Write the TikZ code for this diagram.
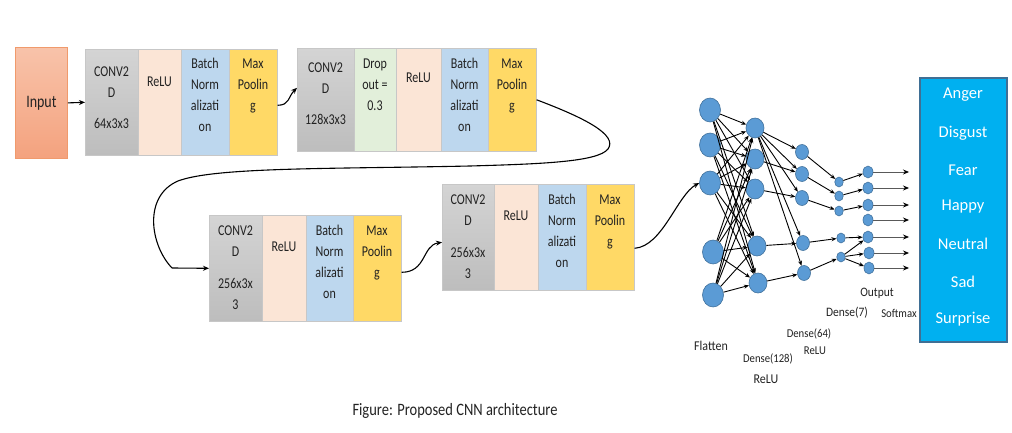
\documentclass[tikz,border=0pt]{standalone}
\usepackage{fontspec}
\usepackage{graphicx}
\setmainfont{Carlito}
\usetikzlibrary{arrows.meta,shapes.geometric,calc}
\definecolor{convT}{HTML}{D4D4D4}
\definecolor{convB}{HTML}{BDBDBD}
\definecolor{inT}{HTML}{F8C3AA}
\definecolor{inB}{HTML}{F4A27E}
\definecolor{inD}{HTML}{F09A6C}
\definecolor{relu}{HTML}{FBE5D6}
\definecolor{bn}{HTML}{BDD7EE}
\definecolor{mp}{HTML}{FFD966}
\definecolor{drop}{HTML}{E2EFDA}
\definecolor{nfill}{HTML}{5B9BD5}
\definecolor{ndraw}{HTML}{41719C}
\definecolor{obox}{HTML}{00B0F0}
\definecolor{oboxd}{HTML}{3F6F95}
\definecolor{txt}{HTML}{222222}
\newcommand\vst[2][1.25]{\scalebox{1}[#1]{#2}}
\newcommand\cellrows[4]{\foreach \t [count=\i] in {#4} \node[ln] (#1-\i) at (#2,{#3+(\i-1)*20.8}) {\vst{\t}};}
\begin{document}
\begin{tikzpicture}[x=1pt,y=-1pt,
  blk/.style={draw=black!22, line width=0.6pt, inner sep=0pt, anchor=north west, minimum height=106pt},
  ln/.style={inner sep=0pt, text height=10.5pt, text depth=1pt, text=txt, font=\fontsize{12}{14}\selectfont},
  lab/.style={inner sep=0pt, text=txt},
  arr/.style={-{Stealth[length=6pt,width=5pt]}, line width=1.1pt},
  nn/.style={-{Stealth[length=5pt,width=4pt]}, line width=0.9pt},
  outarr/.style={-{Stealth[length=6pt,width=5pt,color=black]}, draw=black!65, line width=0.8pt},
  neu/.style={ellipse, fill=nfill, draw=ndraw, line width=0.6pt, inner sep=0pt},
  otxt/.style={inner sep=0pt, text=white, font=\fontsize{16.5}{18}\selectfont}
]
\useasboundingbox (0,0) rectangle (1012,433);

% Input
\node[draw=inD, line width=0.8pt, top color=inT, bottom color=inB, inner sep=0pt, anchor=north west, minimum width=52pt, minimum height=111pt] (in) at (15,47) {};
\node[inner sep=0pt, text=txt, font=\fontsize{14}{16}\selectfont] (intxt) at (in.center) {\vst{Input}};

% Block 1
\node[blk, top color=convT, bottom color=convB, minimum width=53pt] (b1a) at (85,49) {};
\node[blk, fill=relu, minimum width=43pt] (b1b) at (138,49) {};
\node[blk, fill=bn, minimum width=48pt] (b1c) at (181,49) {};
\node[blk, fill=mp, minimum width=48pt] (b1d) at (229,49) {};
\cellrows{t1a}{111.5}{72}{CONV2,D}
\cellrows{t1b}{111.5}{124}{64x3x3}
\cellrows{t1c}{159.5}{82}{ReLU}
\cellrows{t1d}{205}{64}{Batch,Norm,alizati,on}
\cellrows{t1e}{253}{64}{Max,Poolin,g}

% Block 2
\node[blk, top color=convT, bottom color=convB, minimum width=57pt, minimum height=103pt] (b2a) at (297,48) {};
\node[blk, fill=drop, minimum width=42pt, minimum height=103pt] (b2b) at (354,48) {};
\node[blk, fill=relu, minimum width=45pt, minimum height=103pt] (b2c) at (396,48) {};
\node[blk, fill=bn, minimum width=47pt, minimum height=103pt] (b2d) at (441,48) {};
\node[blk, fill=mp, minimum width=48pt, minimum height=103pt] (b2e) at (488,48) {};
\cellrows{t2a}{325.5}{68}{CONV2,D}
\cellrows{t2b}{325.5}{120}{128x3x3}
\cellrows{t2c}{375}{64}{Drop,out =,0.3}
\cellrows{t2d}{418.5}{78}{ReLU}
\cellrows{t2e}{464.5}{64}{Batch,Norm,alizati,on}
\cellrows{t2f}{512}{64}{Max,Poolin,g}

% Block 3
\node[blk, top color=convT, bottom color=convB, minimum width=53pt] (b3a) at (209,215) {};
\node[blk, fill=relu, minimum width=44pt] (b3b) at (262,215) {};
\node[blk, fill=bn, minimum width=47pt] (b3c) at (306,215) {};
\node[blk, fill=mp, minimum width=48pt] (b3d) at (353,215) {};
\cellrows{t3a}{235.5}{231}{CONV2,D}
\cellrows{t3b}{235.5}{284}{256x3x,3}
\cellrows{t3c}{284}{247}{ReLU}
\cellrows{t3d}{329.5}{231}{Batch,Norm,alizati,on}
\cellrows{t3e}{377}{231}{Max,Poolin,g}

% Block 4
\node[blk, top color=convT, bottom color=convB, minimum width=52pt] (b4a) at (442,184) {};
\node[blk, fill=relu, minimum width=44pt] (b4b) at (494,184) {};
\node[blk, fill=bn, minimum width=48pt] (b4c) at (538,184) {};
\node[blk, fill=mp, minimum width=48pt] (b4d) at (586,184) {};
\cellrows{t4a}{468}{200}{CONV2,D}
\cellrows{t4b}{468}{253}{256x3x,3}
\cellrows{t4c}{516}{216}{ReLU}
\cellrows{t4d}{562}{200}{Batch,Norm,alizati,on}
\cellrows{t4e}{610}{200}{Max,Poolin,g}

% Neural network
\foreach \x/\y [count=\i] in {710/110,710/145,710/183,713/252,713/295}
  \node[neu, minimum width=21pt, minimum height=24pt] (a\i) at (\x,\y) {};
\foreach \x/\y [count=\i] in {755/128,755/159,755/189,757/246,758/283}
  \node[neu, minimum width=18pt, minimum height=20pt] (b\i) at (\x,\y) {};
\foreach \x/\y [count=\i] in {802/152,802/174,802/198,803/243,804/273}
  \node[neu, minimum width=13pt, minimum height=15pt] (c\i) at (\x,\y) {};
\foreach \x/\y [count=\i] in {839/182,839/196,839/211,841/238,841/257}
  \node[neu, minimum width=8.5pt, minimum height=10pt] (d\i) at (\x,\y) {};
\foreach \x/\y [count=\i] in {868/172,868/188,868/205,868/220,868/237,869/253,869/268}
  \node[neu, minimum width=10pt, minimum height=12pt] (e\i) at (\x,\y) {};

\foreach \i in {1,...,5} \foreach \j in {1,...,5} \draw[nn] (a\i) -- (b\j);
\foreach \j in {1,...,5} \draw[nn] (b1) -- (c\j);
\foreach \j in {2,...,5} \draw[nn] (b\j) -- (c\j);
\foreach \j in {1,...,5} \draw[nn] (c\j) -- (d\j);
\foreach \j in {1,2,3} \draw[nn] (d\j) -- (e\j);
\draw[nn] (d4) -- (e5);
\foreach \j in {5,6,7} \draw[nn] (d5) -- (e\j);
\coordinate (ox) at (909,0);
\foreach \j in {1,...,7} \draw[outarr] (e\j.east) -- (e\j.east -| ox);

% Output box
\node[draw=oboxd, line width=1.6pt, fill=obox, inner sep=0pt, anchor=north west, minimum width=87pt, minimum height=264pt] (outbox) at (919,77) {};
\foreach \w/\y [count=\i] in {Anger/95,Disgust/133,Fear/170,Happy/207,Neutral/244,Sad/282,Surprise/319}
  \node[otxt] (cls\i) at (963,\y) {\w};

% Connectors between blocks
\draw[arr] (in.east) -- (b1a.west);
\draw[arr] ([yshift=-3pt]b1d.east) .. controls +(12,0) and +(-9,9) .. ([yshift=12pt]b2a.west);
\coordinate (bend) at (172,268);
\draw[line width=1.1pt] (b2e.east) .. controls (585,118) and (618,135) .. (608,149) .. controls (598,162) and (540,164) .. (470,166) .. controls (330,169) and (215,167) .. (178,181) .. controls (143,196) and (150,245) .. (bend);
\draw[arr] (bend) -- (b3a.west);
\draw[arr] ([yshift=-4pt]b3d.east) .. controls +(25,0) and +(-20,3) .. ([yshift=-5pt]b4a.west);
\draw[arr] ([yshift=-11pt]b4d.east) .. controls +(28,-2) and +(-22,12) .. (a3.west);

% Labels
\node[lab, font=\fontsize{11.5}{13}\selectfont] (lo) at (877,293) {\vst[1.12]{Output}};
\node[lab, font=\fontsize{11.5}{13}\selectfont] (ld7) at (847,313) {\vst[1.12]{Dense(7)}};
\node[lab, font=\fontsize{10.7}{12}\selectfont] (lsm) at (899,313) {\vst[1.12]{Softmax}};
\node[lab, font=\fontsize{10.7}{12}\selectfont] (ld64) at (809,334) {\vst[1.12]{Dense(64)}};
\node[lab, font=\fontsize{10.7}{12}\selectfont] (lr64) at (815,351) {\vst[1.12]{ReLU}};
\node[lab, font=\fontsize{12}{14}\selectfont] (lfl) at (711,346) {\vst[1.12]{Flatten}};
\node[lab, font=\fontsize{10.7}{12}\selectfont] (ld128) at (768,359) {\vst[1.12]{Dense(128)}};
\node[lab, font=\fontsize{12}{14}\selectfont] (lr128) at (766,379) {\vst[1.12]{ReLU}};

% Caption
\node[lab, font=\fontsize{14.5}{16}\selectfont] (cap) at (455,411) {\vst[1.2]{Figure: Proposed CNN architecture}};
\end{tikzpicture}
\end{document}
